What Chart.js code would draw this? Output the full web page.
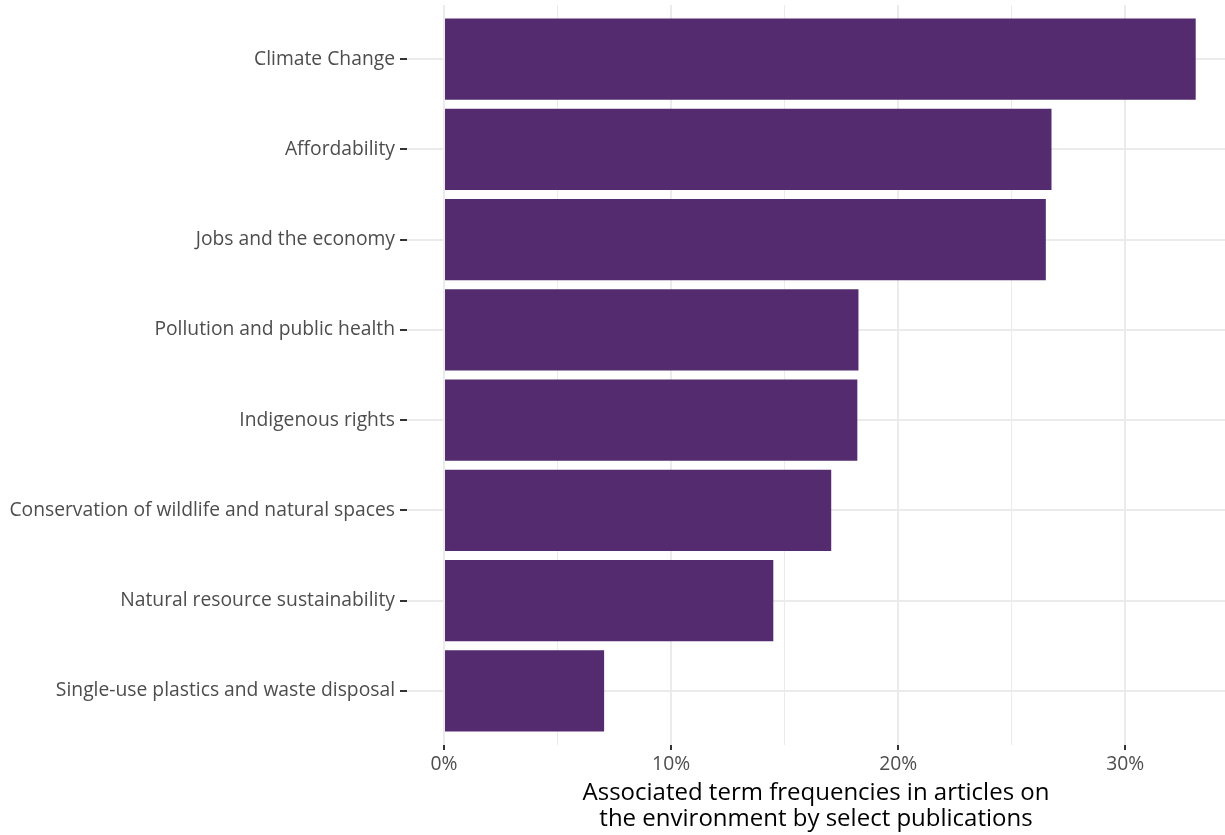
<!DOCTYPE html>
<html>
<head>
<meta charset="utf-8">
<script src="https://cdn.jsdelivr.net/npm/chart.js@4"></script>
<style>
  html, body { margin: 0; padding: 0; background: #fff; }
  #wrap { width: 1225px; height: 835px; position: relative; }
</style>
</head>
<body>
<div id="wrap"><canvas id="termChart"></canvas></div>
<script>
// categories, top to bottom
const categories = [
  "Climate Change",
  "Affordability",
  "Jobs and the economy",
  "Pollution and public health",
  "Indigenous rights",
  "Conservation of wildlife and natural spaces",
  "Natural resource sustainability",
  "Single-use plastics and waste disposal"
];
// percent of articles
const frequencies = [33.1, 26.75, 26.5, 18.25, 18.2, 17.05, 14.5, 7.05];
const xTickValues = [0, 5, 10, 15, 20, 25, 30];
const xAxisTitle = ["Associated term frequencies in articles on", "the environment by select publications"];

const labelFont = "'Open Sans', Lato, sans-serif";

new Chart(document.getElementById("termChart"), {
  type: "bar",
  data: {
    datasets: [
      {
        data: frequencies.map(function (v, i) { return { x: v, y: i }; }),
        backgroundColor: "#532b6e",
        borderWidth: 0,
        barPercentage: 0.9,
        categoryPercentage: 1,
      },
    ],
  },
  options: {
    indexAxis: "y",
    responsive: true,
    maintainAspectRatio: false,
    animation: false,
    layout: { padding: { top: 5, right: 0, bottom: 0, left: 0 } },
    plugins: { legend: { display: false }, tooltip: { enabled: false } },
    scales: {
      x: {
        type: "linear",
        min: -1.63,
        max: 34.39,
        afterBuildTicks: function (scale) {
          scale.ticks = xTickValues.map(function (v) { return { value: v }; });
        },
        afterFit: function (scale) {
          scale.height = 90;
          scale.paddingLeft = 0;
          scale.paddingRight = 0;
        },
        border: { display: false },
        grid: {
          color: "#ebebeb",
          lineWidth: function (ctx) { return ctx.tick && ctx.tick.value % 10 === 0 ? 2 : 1; },
          tickColor: function (ctx) { return ctx.tick && ctx.tick.value % 10 === 0 ? "#333333" : "rgba(0,0,0,0)"; },
          tickLength: 5,
          tickWidth: 2,
        },
        ticks: {
          autoSkip: false,
          maxRotation: 0,
          padding: 3,
          color: "#4d4d4d",
          font: { family: labelFont, size: 19.3 },
          callback: function (v) { return v % 10 === 0 ? v + "%" : ""; },
        },
        title: {
          display: true,
          text: xAxisTitle,
          color: "#000000",
          font: { family: labelFont, size: 24, lineHeight: 1.08 },
          padding: { top: 0, bottom: 3 },
        },
      },
      y: {
        type: "linear",
        reverse: true,
        offset: false,
        min: -0.6,
        max: 7.6,
        afterBuildTicks: function (scale) {
          scale.ticks = categories.map(function (c, i) { return { value: i }; });
        },
        afterFit: function (scale) {
          scale.width = 407;
          scale.paddingTop = 0;
          scale.paddingBottom = 0;
        },
        border: { display: false },
        grid: {
          offset: false,
          color: "#ebebeb",
          lineWidth: 2,
          tickColor: "#333333",
          tickLength: 7,
          tickWidth: 2,
        },
        ticks: {
          autoSkip: false,
          padding: 5,
          color: "#4d4d4d",
          font: { family: labelFont, size: 19.3 },
          callback: function (v) { return categories[v]; },
        },
      },
    },
  },
});
</script>
</body>
</html>
